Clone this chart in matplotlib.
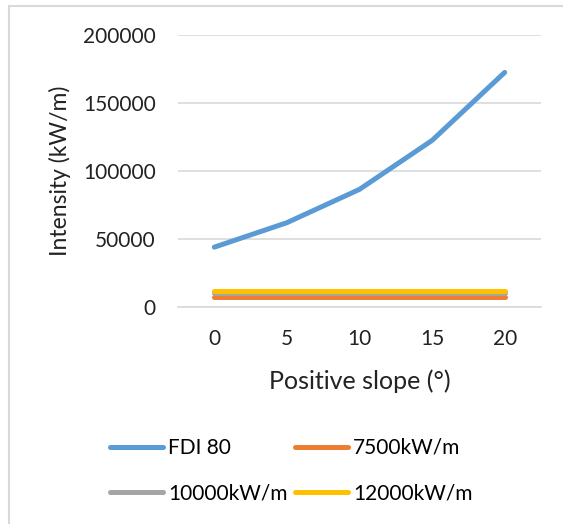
from matplotlib import pyplot as plt
from matplotlib.lines import Line2D

slope = [0, 5, 10, 15, 20]
fdi80 = [44000, 62000, 86500, 122500, 172500]
i7500 = [7500] * 5
i10000 = [10000] * 5
i12000 = [12000] * 5

plt.rcParams['font.family'] = ['Lato', 'DejaVu Sans']

fig = plt.figure(figsize=(5.63, 5.24), dpi=100)
# рамка вокруг графика (видны только левая и верхняя стороны)
fig.add_artist(Line2D([8.5 / 563, 8.5 / 563], [0, 1 - 5.5 / 524], color='#d9d9d9', lw=1.5))
fig.add_artist(Line2D([8.5 / 563, 1], [1 - 5.5 / 524, 1 - 5.5 / 524], color='#d9d9d9', lw=1.5))

ax = fig.add_axes([178 / 563, 1 - 307 / 524, (541 - 178) / 563, (307 - 35) / 524])
x = list(range(len(slope)))
l1, = ax.plot(x, fdi80, color='#5B9BD5', lw=3.6, solid_capstyle='round', label='FDI 80')
l2, = ax.plot(x, i7500, color='#ED7D31', lw=3.6, solid_capstyle='round', label='7500kW/m')
l3, = ax.plot(x, i10000, color='#A5A5A5', lw=3.6, solid_capstyle='round', label='10000kW/m')
l4, = ax.plot(x, i12000, color='#FFC000', lw=3.6, solid_capstyle='round', label='12000kW/m')

ax.set_xlim(-0.5, 4.5)
ax.set_ylim(0, 200000)
ax.set_yticks([0, 50000, 100000, 150000, 200000])
ax.set_xticks(x)
ax.set_xticklabels([str(s) for s in slope])
ax.grid(axis='y', color='#d9d9d9', lw=1.2)
ax.set_axisbelow(True)
for s in ['left', 'right', 'top']:
    ax.spines[s].set_visible(False)
ax.spines['bottom'].set_color('#d9d9d9')
ax.spines['bottom'].set_linewidth(1.2)
ax.tick_params(length=0, labelsize=15, colors='#222222')
ax.tick_params(axis='x', pad=16)
ax.tick_params(axis='y', pad=16)

ax.set_xlabel('Positive slope (°)', fontsize=18, color='#222222')
ax.set_ylabel('Intensity (kW/m)', fontsize=16.5, color='#222222')
ax.xaxis.set_label_coords(0.501, -0.228)
ax.yaxis.set_label_coords(-0.295, 0.5)

# порядок как в оригинале: по строкам
fig.legend([l1, l3, l2, l4], ['FDI 80', '10000kW/m', '7500kW/m', '12000kW/m'],
           loc='upper left', bbox_to_anchor=(110 / 563, 1 - 438 / 524), ncol=2,
           frameon=False, fontsize=15, handlelength=2.55, handletextpad=0.24,
           columnspacing=0.34, labelspacing=1.2, borderpad=0, borderaxespad=0)

plt.savefig('out.png', dpi=100)
